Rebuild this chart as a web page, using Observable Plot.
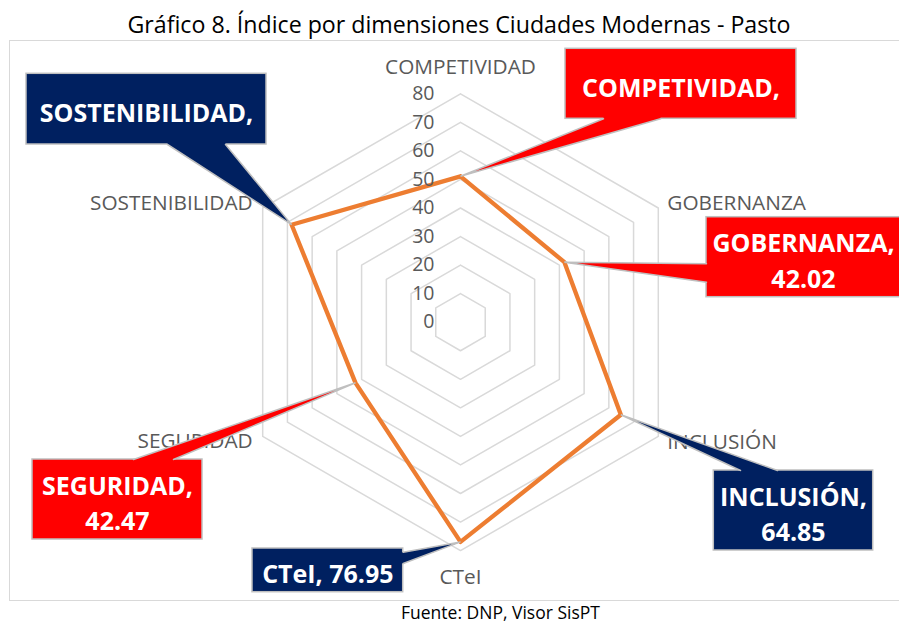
<!DOCTYPE html>
<html><head><meta charset="utf-8">
<script src="https://cdn.jsdelivr.net/npm/d3@7"></script>
<script src="https://cdn.jsdelivr.net/npm/@observablehq/plot@0.6"></script>
<style>
html,body{margin:0;padding:0;width:899px;height:624px;overflow:hidden;background:#fff;font-family:"Open Sans",sans-serif;}
#title{position:absolute;left:0;width:918px;top:11px;text-align:center;font-size:23.2px;line-height:26px;color:#000;white-space:nowrap;}
#frame{position:absolute;left:9px;top:40px;width:910px;height:559px;border:1.5px solid #d9d9d9;}
#chart{position:absolute;left:0;top:40px;}
#caption{position:absolute;left:401px;top:602px;font-size:17.5px;line-height:20px;color:#000;white-space:nowrap;}
</style></head>
<body>
<div id="title">Gráfico 8. Índice por dimensiones Ciudades Modernas - Pasto</div>
<div id="frame"></div>
<div id="chart"></div>
<div id="caption">Fuente: DNP, Visor SisPT</div>
<script>
// ---- data ----
const dims = ["COMPETIVIDAD", "GOBERNANZA", "INCLUSIÓN", "CTeI", "SEGURIDAD", "SOSTENIBILIDAD"];
const values = [51.1, 42.02, 64.85, 76.95, 42.47, 68.3];
const ticks = [0, 10, 20, 30, 40, 50, 60, 70, 80];
const rings = [10, 20, 30, 40, 50, 60, 70, 80];

// ---- layout (pixels) ----
const W = 899, H = 564, TOP = 40, CX = 460, CY = 281.7, K = 2.855;
const RED = "#FF0000", NAVY = "#002060", EDGE = "#bfbfbf";
const axisLabelLayout = [
  {anchor: "middle", dx: 0, dy: -26.6},
  {anchor: "start", dx: 9, dy: -4.2},
  {anchor: "start", dx: 9, dy: 5.8},
  {anchor: "middle", dx: 0, dy: 26.7},
  {anchor: "end", dx: -10, dy: 5},
  {anchor: "end", dx: -10, dy: -4.5}
];
// callout boxes in page pixels; sep = how the value follows the name (null: hidden)
const callouts = [
  {i: 0, fill: RED,  x0: 565,   x1: 796,   y0: 48.3,  y1: 118.3, side: "bottom", b0: 603,   b1: 660,   sep: null},
  {i: 1, fill: RED,  x0: 706,   x1: 900,   y0: 216.7, y1: 296.7, side: "left",   b0: 263.3, b1: 281.7, sep: "\n"},
  {i: 2, fill: NAVY, x0: 713.3, x1: 872.7, y0: 470,   y1: 550,   side: "top",    b0: 740,   b1: 777,   sep: "\n"},
  {i: 3, fill: NAVY, x0: 252,   x1: 402.7, y0: 548,   y1: 591.7, side: "right",  b0: 551.7, b1: 563,   sep: " "},
  {i: 4, fill: RED,  x0: 32,    x1: 202,   y0: 459,   y1: 539,   side: "top",    b0: 133,   b1: 173,   sep: "\n"},
  {i: 5, fill: NAVY, x0: 26,    x1: 266,   y0: 73.3,  y1: 144,   side: "bottom", b0: 167,   b1: 225,   sep: null}
];

// ---- helpers ----
const ux = px => (px - CX) / K;
const uy = py => (CY - (py - TOP)) / K;
const pt = (i, r) => ({x: r * Math.sin(i * Math.PI / 3), y: r * Math.cos(i * Math.PI / 3)});

const gridPts = rings.flatMap(r => d3.range(7).map(j => ({ring: r, ...pt(j % 6, r)})));
const seriesPts = d3.range(7).map(j => pt(j % 6, values[j % 6]));

const marks = [];
marks.push(Plot.line(gridPts, {x: "x", y: "y", z: "ring", stroke: "#d9d9d9", strokeWidth: 1.5}));
marks.push(Plot.line(seriesPts, {x: "x", y: "y", stroke: "#ED7D31", strokeWidth: 4.3, strokeLinejoin: "round"}));
marks.push(Plot.text(ticks, {x: () => 0, y: d => d, text: d => String(d), dx: -26, textAnchor: "end",
  fill: "#595959", fontSize: 19.5, fontFamily: "Open Sans"}));
dims.forEach((d, i) => {
  const l = axisLabelLayout[i];
  marks.push(Plot.text([{...pt(i, 80), d}], {x: "x", y: "y", text: "d", dx: l.dx, dy: l.dy,
    textAnchor: l.anchor, fill: "#595959", fontSize: 20.8, fontFamily: "Open Sans"}));
});

callouts.forEach(c => {
  const tip = pt(c.i, values[c.i]);
  let base, inner;
  if (c.side === "bottom") { base = [[c.b0, c.y1], [c.b1, c.y1]]; inner = [[c.b0, c.y1 - 2], [c.b1, c.y1 - 2]]; }
  if (c.side === "top")    { base = [[c.b0, c.y0], [c.b1, c.y0]]; inner = [[c.b0, c.y0 + 2], [c.b1, c.y0 + 2]]; }
  if (c.side === "left")   { base = [[c.x0, c.b0], [c.x0, c.b1]]; inner = [[c.x0 + 2, c.b0], [c.x0 + 2, c.b1]]; }
  if (c.side === "right")  { base = [[c.x1, c.b0], [c.x1, c.b1]]; inner = [[c.x1 - 2, c.b0], [c.x1 - 2, c.b1]]; }
  const P = ([px, py]) => ({x: ux(px), y: uy(py)});
  const poly = [P(inner[0]), P(base[0]), tip, P(base[1]), P(inner[1])];
  const sides = [P(base[0]), tip, P(base[1])];
  marks.push(Plot.rect([c], {x1: d => ux(d.x0), x2: d => ux(d.x1), y1: d => uy(d.y0), y2: d => uy(d.y1),
    fill: c.fill, stroke: EDGE, strokeWidth: 1.5}));
  marks.push(Plot.line(poly, {x: "x", y: "y", fill: c.fill, stroke: "none"}));
  marks.push(Plot.line(sides, {x: "x", y: "y", stroke: EDGE, strokeWidth: 1.5, strokeLinejoin: "miter"}));
  const txt = dims[c.i] + "," + (c.sep ? c.sep + values[c.i].toFixed(2) : "");
  marks.push(Plot.text([c], {x: d => ux((d.x0 + d.x1) / 2), y: d => uy((d.y0 + d.y1) / 2 + 1.5), text: () => txt,
    fill: "#ffffff", fontWeight: "bold", fontSize: 25, lineHeight: 1.42, fontFamily: "Open Sans"}));
});

const chart = Plot.plot({
  width: W, height: H,
  marginLeft: 0, marginRight: 0, marginTop: 0, marginBottom: 0,
  x: {domain: [ux(0), ux(W)], axis: null},
  y: {domain: [uy(TOP + H), uy(TOP)], axis: null},
  style: {fontFamily: "Open Sans", background: "transparent", overflow: "visible"},
  marks
});
document.getElementById("chart").appendChild(chart);
</script>
</body></html>
